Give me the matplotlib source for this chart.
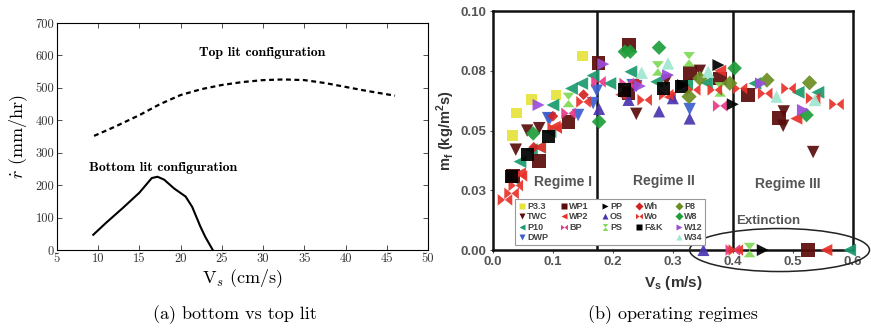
import matplotlib
matplotlib.use("Agg")
import matplotlib.pyplot as plt
from matplotlib.path import Path
from matplotlib.patches import Ellipse
from matplotlib.lines import Line2D

plt.rcParams["mathtext.fontset"] = "custom"
plt.rcParams["mathtext.bf"] = "Liberation Sans:bold"
plt.rcParams["mathtext.rm"] = "Liberation Sans:bold"

# ---------------- (a) regression rate vs. velocity ----------------
top_vs = [9.5, 12, 15, 17.5, 20, 22.5, 25, 27.5, 30, 32.5, 35, 37.5, 40, 42.5, 46]
top_r = [352, 380, 416, 450, 478, 496, 509, 518, 524, 526, 524, 515, 503, 491, 476]
bot_vs = [9.4, 11, 13, 15, 16.5, 17.2, 18, 19.2, 20.6, 21.4, 22.4, 23, 23.9]
bot_r = [47, 85, 130, 177, 222, 226, 217, 190, 165, 133, 72, 40, 0]
left_xticks = [5, 10, 15, 20, 25, 30, 35, 40, 45, 50]
left_yticks = [0, 100, 200, 300, 400, 500, 600, 700]

# ---------------- (b) operating regimes scatter ----------------
# series: x [m/s], y [kg/m^2 s]
P33_x = [0.032, 0.039, 0.064, 0.105, 0.149]
P33_y = [0.048, 0.0573, 0.063, 0.0649, 0.0812]
TWC_x = [0.038, 0.057, 0.077, 0.239, 0.289, 0.345, 0.484, 0.485, 0.534]
TWC_y = [0.042, 0.050, 0.051, 0.057, 0.071, 0.075, 0.052, 0.058, 0.041]
P10_x = [0.033, 0.045, 0.064, 0.078, 0.095, 0.100, 0.131, 0.148, 0.167, 0.195,
         0.230, 0.273, 0.323, 0.356, 0.437, 0.509, 0.542, 0.595]
P10_y = [0.030, 0.037, 0.042, 0.043, 0.0495, 0.0607, 0.0676, 0.0697, 0.073, 0.0697,
         0.0746, 0.0704, 0.0697, 0.070, 0.0697, 0.066, 0.066, 0.0]
DWP_x = [0.092, 0.095, 0.142, 0.167, 0.173, 0.233, 0.239, 0.328]
DWP_y = [0.0552, 0.055, 0.0565, 0.0615, 0.0667, 0.069, 0.0686, 0.059]
WP1_x = [0.033, 0.077, 0.126, 0.176, 0.227, 0.226, 0.328, 0.378, 0.425, 0.477, 0.526]
WP1_y = [0.031, 0.0374, 0.0537, 0.0784, 0.0858, 0.0656, 0.0739, 0.0718, 0.065, 0.0552, 0.0]
WP2_x = [0.045, 0.078, 0.103, 0.214, 0.295, 0.379, 0.506, 0.556]
WP2_y = [0.032, 0.043, 0.0516, 0.065, 0.064, 0.075, 0.055, 0.0]
BP_x = [0.126, 0.176, 0.223, 0.379, 0.400]
BP_y = [0.0572, 0.0704, 0.0697, 0.0603, 0.0]
PP_x = [0.317, 0.376, 0.400, 0.450]
PP_y = [0.069, 0.0774, 0.061, 0.0]
OS_x = [0.177, 0.226, 0.277, 0.300, 0.328, 0.351]
OS_y = [0.059, 0.0628, 0.058, 0.0635, 0.055, 0.0]
PS_x = [0.126, 0.275, 0.327, 0.379, 0.428]
PS_y = [0.0628, 0.076, 0.0798, 0.0672, 0.0]
Wh_x = [0.068, 0.100, 0.151, 0.240]
Wh_y = [0.043, 0.056, 0.065, 0.070]
Wo_x = [0.020, 0.031, 0.038, 0.045, 0.103, 0.151, 0.253, 0.289, 0.334, 0.370,
        0.405, 0.412, 0.454, 0.493, 0.534, 0.573]
Wo_y = [0.021, 0.0237, 0.027, 0.031, 0.051, 0.062, 0.0628, 0.065, 0.067, 0.067,
        0.0, 0.0676, 0.0655, 0.0676, 0.0635, 0.061]
FK_x = [0.031, 0.057, 0.092, 0.220, 0.285, 0.315]
FK_y = [0.0307, 0.040, 0.0474, 0.067, 0.0676, 0.0686]
P8_x = [0.327, 0.345, 0.395, 0.457, 0.528]
P8_y = [0.0642, 0.0718, 0.0698, 0.0711, 0.0700]
W8_x = [0.067, 0.177, 0.220, 0.229, 0.277, 0.403, 0.523]
W8_y = [0.0488, 0.0537, 0.083, 0.083, 0.0847, 0.0761, 0.0565]
W12_x = [0.076, 0.184, 0.245, 0.292, 0.447, 0.517]
W12_y = [0.0607, 0.0778, 0.0686, 0.0732, 0.0697, 0.0586]
W34_x = [0.248, 0.292, 0.359, 0.473, 0.537]
W34_y = [0.0742, 0.0781, 0.0746, 0.0642, 0.0628]

regime_bounds = [0.173, 0.4]
right_xticks = [0.0, 0.1, 0.2, 0.3, 0.4, 0.5, 0.6]
right_yticks = [0.0, 0.025, 0.05, 0.075, 0.1]
right_yticklabels = ["0.00", "0.03", "0.05", "0.08", "0.10"]

# custom marker shapes
bowtie = Path([(-1, -0.8), (-1, 0.8), (0, 0), (1, 0.8), (1, -0.8), (0, 0), (-1, -0.8)])
hourglass = Path([(-0.8, -1), (0.8, -1), (0, 0), (0.8, 1), (-0.8, 1), (0, 0), (-0.8, -1)])

series = [
    ("P3.3", P33_x, P33_y, "s", "#e6e33a", 60),
    ("TWC", TWC_x, TWC_y, "v", "#5a0d0d", 80),
    ("P10", P10_x, P10_y, "<", "#1a9a6c", 85),
    ("DWP", DWP_x, DWP_y, "v", "#3b5fd0", 80),
    ("WP1", WP1_x, WP1_y, "s", "#5c0b0b", 100),
    ("WP2", WP2_x, WP2_y, "<", "#e8302a", 75),
    ("BP", BP_x, BP_y, bowtie, "#e8388a", 110),
    ("PP", PP_x, PP_y, ">", "#000000", 75),
    ("OS", OS_x, OS_y, "^", "#4a35b0", 75),
    ("PS", PS_x, PS_y, hourglass, "#7fd956", 110),
    ("Wh", Wh_x, Wh_y, "D", "#d42222", 30),
    ("Wo", Wo_x, Wo_y, bowtie, "#e8322a", 110),
    ("F&K", FK_x, FK_y, "s", "#000000", 90),
    ("P8", P8_x, P8_y, "D", "#6b8e23", 60),
    ("W8", W8_x, W8_y, "D", "#1f9e3a", 55),
    ("W12", W12_x, W12_y, ">", "#9b4ddb", 75),
    ("W34", W34_x, W34_y, "^", "#a0e6d2", 80),
]

fig = plt.figure(figsize=(8.71, 3.29), dpi=100)

# ---------- left panel ----------
axL = fig.add_axes([0.0654, 0.240, 0.426, 0.690])
axL.plot(top_vs, top_r, color="black", lw=1.6, ls=(0, (2.2, 1.6)))
axL.plot(bot_vs, bot_r, color="black", lw=1.5)
axL.set_xlim(5, 50)
axL.set_ylim(0, 700)
axL.set_xticks(left_xticks)
axL.set_yticks(left_yticks)
axL.tick_params(direction="in", top=True, right=True, length=3.5, width=0.6,
                labelsize=9, colors="#333333", pad=2)
for lab in axL.get_xticklabels() + axL.get_yticklabels():
    lab.set_fontfamily("cmr10")
    lab.set_color("#333333")
for sp in axL.spines.values():
    sp.set_linewidth(0.8)
axL.set_xlabel(r"V$_s$ (cm/s)", fontsize=13, fontfamily="cmr10",
               math_fontfamily="cm", labelpad=2)
axL.set_ylabel(r"$\dot{r}$ (mm/hr)", fontsize=13, fontfamily="cmr10",
               math_fontfamily="cm", labelpad=4)
axL.text(29.9, 607, "Top lit configuration", fontsize=10, fontfamily="cmb10",
         ha="center", va="center")
axL.text(17.9, 253, "Bottom lit configuration", fontsize=10, fontfamily="cmb10",
         ha="center", va="center")

# ---------- right panel ----------
axR = fig.add_axes([0.566, 0.240, 0.413, 0.7264])
handles = []
for name, xs, ys, mk, col, size in series:
    axR.scatter(xs, ys, marker=mk, s=size, color=col, edgecolors="none",
                alpha=0.92, clip_on=False, zorder=3)
    handles.append(Line2D([], [], ls="none", marker=mk, color=col, mec="none",
                          markersize=5 if isinstance(mk, Path) else 4.5,
                          label=name))

for xb in regime_bounds:
    axR.axvline(xb, color="#111111", lw=1.8, zorder=2)

axR.set_xlim(0, 0.6)
axR.set_ylim(0, 0.1)
axR.set_xticks(right_xticks)
axR.set_yticks(right_yticks)
axR.set_yticklabels(right_yticklabels)
axR.tick_params(direction="out", length=2.5, width=0.8, labelsize=9.5,
                colors="#555555", pad=2)
for lab in axR.get_xticklabels() + axR.get_yticklabels():
    lab.set_fontfamily("Liberation Sans")
    lab.set_fontweight("bold")
    lab.set_color("#555555")
for sp in axR.spines.values():
    sp.set_linewidth(1.8)
    sp.set_color("#111111")
    sp.set_zorder(2)
axR.set_xlabel(r"V$_\mathbf{s}$ (m/s)", fontsize=11, fontfamily="Liberation Sans",
               fontweight="bold", color="#333333", labelpad=4)
axR.set_ylabel(r"m$_\mathbf{f}$ (kg/m$^\mathbf{2}$s)", fontsize=10.5,
               fontfamily="Liberation Sans", fontweight="bold", color="#333333",
               labelpad=3)

gray = "#555555"
txt = dict(fontfamily="Liberation Sans", fontweight="bold", color=gray,
           fontsize=10, ha="center", va="center")
axR.text(0.117, 0.0285, "Regime I", **txt)
axR.text(0.285, 0.0287, "Regime II", **txt)
axR.text(0.492, 0.0275, "Regime III", **txt)
axR.text(0.459, 0.0122, "Extinction", **dict(txt, fontsize=9.5))

ell = Ellipse((0.478, 0.0), width=0.30, height=0.018, fill=False,
              edgecolor="#222222", lw=1.1, clip_on=False, zorder=4)
axR.add_patch(ell)

blank = Line2D([], [], ls="none", marker="", label=" ")
ordered = handles[0:4] + handles[4:7] + [blank] + handles[7:10] + [blank] + \
    handles[10:13] + [blank] + handles[13:17]
leg = axR.legend(handles=ordered, ncol=5, loc="lower left",
                 bbox_to_anchor=(0.062, 0.022), frameon=True, fancybox=False,
                 edgecolor="#999999", framealpha=1.0, borderpad=0.3,
                 labelspacing=0.15, handlelength=0.8, handletextpad=0.2,
                 columnspacing=1.35, borderaxespad=0.0,
                 prop={"family": "Liberation Sans", "weight": "bold", "size": 6.5})
leg.get_frame().set_linewidth(0.8)
for t in leg.get_texts():
    t.set_color("#444444")
leg.set_zorder(5)

fig.text(0.27, 0.045, "(a) bottom vs top lit", fontsize=13, fontfamily="cmr10",
         ha="center", va="center")
fig.text(0.773, 0.045, "(b) operating regimes", fontsize=13, fontfamily="cmr10",
         ha="center", va="center")

fig.savefig("out.png", dpi=100)
